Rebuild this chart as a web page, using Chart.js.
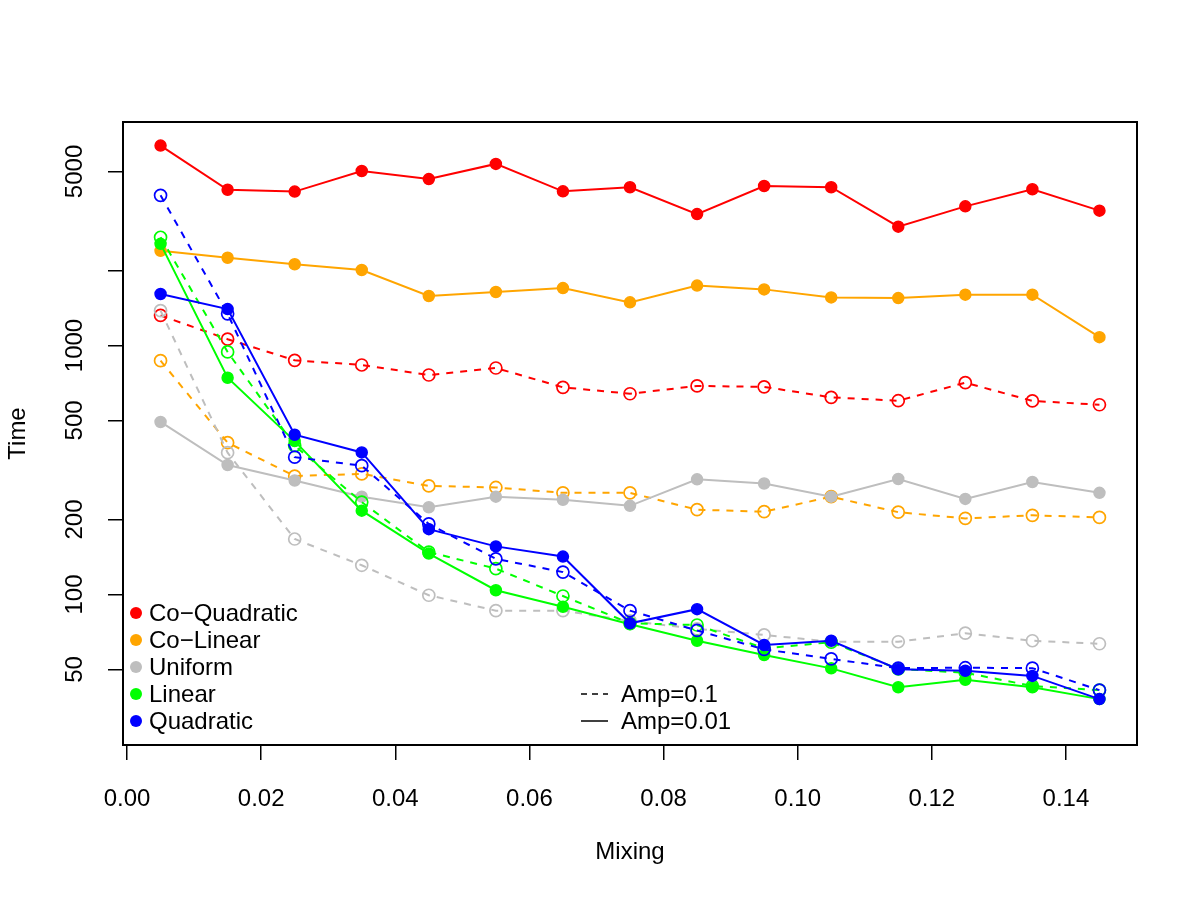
<!DOCTYPE html>
<html lang="en">
<head>
  <meta charset="UTF-8">
  <title>Mixing vs Time</title>
  <script src="https://cdn.jsdelivr.net/npm/chart.js"></script>
  <style>
    body { margin: 0; background: #fff; }
    canvas { display: block; }
  </style>
</head>
<body>
  <canvas id="mixingChart" width="1200" height="900"></canvas>

  <script>
    // x values and axis ticks
    const mixing = [0.005, 0.015, 0.025, 0.035, 0.045, 0.055, 0.065, 0.075, 0.085, 0.095, 0.105, 0.115, 0.125, 0.135, 0.145];
    const xTicks = [0, 0.02, 0.04, 0.06, 0.08, 0.10, 0.12, 0.14];
    const yTicks = [50, 100, 200, 500, 1000, 2000, 5000];
    const yTickLabels = ['50', '100', '200', '500', '1000', '', '5000'];

    const methods = ['Co−Quadratic', 'Co−Linear', 'Uniform', 'Linear', 'Quadratic'];
    const colors = ['#FF0000', '#FFA500', '#BEBEBE', '#00FF00', '#0000FF'];
    const ampLabels = ['Amp=0.1', 'Amp=0.01'];

    // Amp=0.01 (solid line, filled points)
    const coQuadraticAmp001 = [6350, 4220, 4150, 5020, 4660, 5360, 4160, 4320, 3370, 4370, 4320, 3000, 3620, 4240, 3480];
    const coLinearAmp001 = [2400, 2250, 2120, 2010, 1580, 1640, 1700, 1490, 1740, 1680, 1560, 1550, 1600, 1600, 1080];
    const uniformAmp001 = [493, 331, 287, 247, 224, 247, 240, 227, 290, 279, 247, 291, 242, 283, 256];
    const linearAmp001 = [2560, 742, 413, 217, 146, 104, 89.3, 75.9, 65.2, 57.1, 50.5, 42.4, 45.4, 42.4, 38.0];
    const quadraticAmp001 = [1610, 1400, 438, 372, 183, 156, 142, 76.6, 87.3, 62.7, 65.2, 50.1, 49.4, 47.1, 38.0];

    // Amp=0.1 (dashed line, open points)
    const coQuadraticAmp01 = [1320, 1060, 872, 835, 761, 812, 679, 640, 688, 682, 619, 600, 709, 599, 578];
    const coLinearAmp01 = [869, 407, 299, 305, 273, 269, 256, 256, 219, 215, 247, 214, 202, 208, 204];
    const uniformAmp01 = [1380, 371, 167, 131, 99.3, 86.1, 86.1, 78.3, 72.7, 68.8, 64.6, 64.6, 69.9, 65.2, 63.4];
    const linearAmp01 = [2720, 942, 396, 235, 148, 127, 98.6, 76.6, 75.4, 60.8, 64.3, 50.2, 48.5, 42.9, 41.3];
    const quadraticAmp01 = [4010, 1340, 356, 329, 192, 139, 123, 86.1, 71.7, 60.2, 55.1, 50.6, 50.8, 50.6, 41.3];

    const solidSeries = [coQuadraticAmp001, coLinearAmp001, uniformAmp001, linearAmp001, quadraticAmp001];
    const dashedSeries = [coQuadraticAmp01, coLinearAmp01, uniformAmp01, linearAmp01, quadraticAmp01];

    const FONT = '"Liberation Sans", Arial, Helvetica, sans-serif';
    const DASH = [7, 7];
    Chart.defaults.font.family = FONT;
    Chart.defaults.font.size = 24;
    Chart.defaults.color = '#000';

    const toPoints = arr => mixing.map((m, k) => ({ x: m, y: arr[k] }));

    const datasets = [];
    let order = 100;
    methods.forEach((name, i) => {
      datasets.push({
        label: name + ' ' + ampLabels[0],
        data: toPoints(dashedSeries[i]),
        borderColor: colors[i],
        borderWidth: 2,
        borderDash: DASH,
        pointRadius: 6,
        pointBorderWidth: 1.7,
        pointBorderColor: colors[i],
        pointBackgroundColor: 'rgba(0,0,0,0)',
        tension: 0,
        fill: false,
        order: order--
      });
      datasets.push({
        label: name + ' ' + ampLabels[1],
        data: toPoints(solidSeries[i]),
        borderColor: colors[i],
        borderWidth: 2,
        pointRadius: 5.5,
        pointBorderWidth: 1.5,
        pointBorderColor: colors[i],
        pointBackgroundColor: colors[i],
        tension: 0,
        fill: false,
        order: order--
      });
    });

    // box, rotated y labels and both legends
    const framePlugin = {
      id: 'frame',
      afterDraw(chart) {
        const { ctx, chartArea: a, scales } = chart;
        ctx.save();
        ctx.strokeStyle = '#000';
        ctx.lineWidth = 2;
        ctx.setLineDash([]);
        ctx.strokeRect(a.left, a.top, a.right - a.left, a.bottom - a.top);

        ctx.fillStyle = '#000';
        ctx.font = '24px ' + FONT;
        ctx.textAlign = 'center';
        ctx.textBaseline = 'alphabetic';
        yTicks.forEach((v, i) => {
          if (!yTickLabels[i]) return;
          const py = scales.y.getPixelForValue(v);
          ctx.save();
          ctx.translate(a.left - 41, py);
          ctx.rotate(-Math.PI / 2);
          ctx.fillText(yTickLabels[i], 0, 0);
          ctx.restore();
        });

        // method legend (bottom left)
        ctx.textAlign = 'left';
        ctx.textBaseline = 'middle';
        methods.forEach((name, i) => {
          const ry = a.bottom - 132 + i * 27;
          ctx.fillStyle = colors[i];
          ctx.beginPath();
          ctx.arc(a.left + 13, ry, 6, 0, Math.PI * 2);
          ctx.fill();
          ctx.fillStyle = '#000';
          ctx.fillText(name, a.left + 26, ry + 1);
        });

        // amplitude legend
        ampLabels.forEach((lab, i) => {
          const ry = a.bottom - 51 + i * 27;
          ctx.strokeStyle = '#000';
          ctx.lineWidth = 1.5;
          ctx.setLineDash(i === 0 ? [6, 5] : []);
          ctx.beginPath();
          ctx.moveTo(a.left + 458, ry);
          ctx.lineTo(a.left + 485, ry);
          ctx.stroke();
          ctx.setLineDash([]);
          ctx.fillText(lab, a.left + 498, ry + 1);
        });
        ctx.restore();
      }
    };

    const ctx = document.getElementById('mixingChart').getContext('2d');
    const mixingChart = new Chart(ctx, {
      type: 'line',
      data: { datasets: datasets },
      options: {
        responsive: false,
        animation: false,
        devicePixelRatio: 1,
        events: [],
        layout: { padding: { top: 122, right: 63, left: 0, bottom: 0 }, autoPadding: false },
        plugins: { legend: { display: false }, tooltip: { enabled: false } },
        scales: {
          x: {
            type: 'linear',
            min: -0.0006,
            max: 0.1506,
            afterBuildTicks: s => { s.ticks = xTicks.map(v => ({ value: v })); },
            afterFit: s => { s.height = 155; },
            ticks: { autoSkip: false, maxRotation: 0, padding: 25, color: '#000', callback: v => v.toFixed(2) },
            grid: { drawOnChartArea: false, drawTicks: true, tickLength: 15, color: '#000', lineWidth: 1.5 },
            border: { display: false },
            title: { display: true, text: 'Mixing', color: '#000', padding: { top: 0, bottom: 33 } }
          },
          y: {
            type: 'logarithmic',
            min: 24.86,
            max: 7898,
            afterBuildTicks: s => { s.ticks = yTicks.map(v => ({ value: v })); },
            afterFit: s => { s.width = 123; },
            ticks: { display: false },
            grid: { drawOnChartArea: false, drawTicks: true, tickLength: 15, color: '#000', lineWidth: 1.5 },
            border: { display: false },
            title: { display: true, text: 'Time', color: '#000', padding: { top: 4, bottom: 0 } }
          }
        }
      },
      plugins: [framePlugin]
    });
  </script>
</body>
</html>
